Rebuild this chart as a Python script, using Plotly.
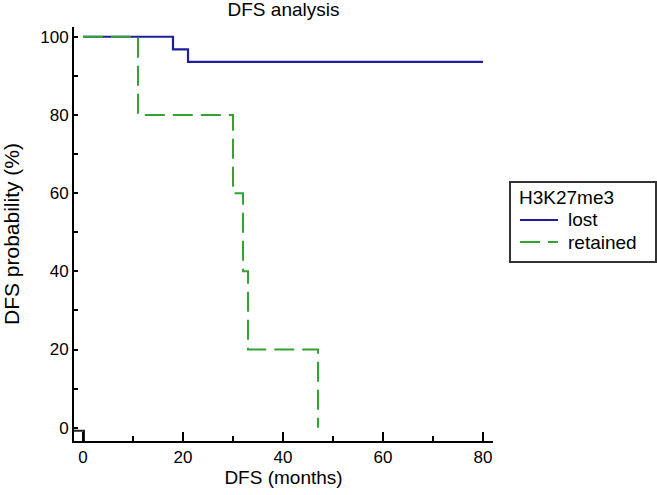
import plotly.graph_objects as go

# Kaplan-Meier step data (months, DFS probability %)
lost_months = [0, 18, 21, 80]
lost_surv = [100, 96.8, 93.6, 93.6]

retained_months = [0, 11, 30, 32, 33, 47]
retained_surv = [100, 80, 60, 40, 20, 0]

# small marker drawn by the software at the origin
origin_x = [-1.8, 0.2, 0.2]
origin_y = [-0.8, -0.8, -3.4]

x_ticks = [0, 20, 40, 60, 80]
y_ticks = [0, 20, 40, 60, 80, 100]

legend_title = "H3K27me3"
series_names = ["lost", "retained"]
series_colors = ["#1f1f9e", "#33a333"]
series_dash = ["solid", "20px,8px"]

FONT = "Liberation Sans, Arial, sans-serif"
W, H = 657, 495
ML, MR, MT, MB = 74, 164, 27, 54
PW, PH = W - ML - MR, H - MT - MB


def px(x):  # page pixel -> paper x
    return (x - ML) / PW


def py(y):  # page pixel -> paper y
    return (H - MB - y) / PH


fig = go.Figure()
fig.add_trace(go.Scatter(
    x=lost_months, y=lost_surv, mode="lines", line_shape="hv",
    name=series_names[0], showlegend=False,
    line=dict(color=series_colors[0], width=2.2)))
fig.add_trace(go.Scatter(
    x=retained_months, y=retained_surv, mode="lines", line_shape="hv",
    name=series_names[1], showlegend=False,
    line=dict(color=series_colors[1], width=2, dash=series_dash[1])))
fig.add_trace(go.Scatter(
    x=origin_x, y=origin_y, mode="lines", showlegend=False, hoverinfo="skip",
    line=dict(color="#222222", width=2)))

# legend box drawn manually to match the reference layout
shapes = [dict(type="rect", xref="paper", yref="paper",
               x0=px(510), x1=px(656), y0=py(262), y1=py(182),
               line=dict(color="#333333", width=2), fillcolor="white", layer="below")]
annotations = [dict(text=legend_title, xref="paper", yref="paper",
                    x=px(517), y=py(197), xanchor="left", yanchor="middle",
                    showarrow=False, font=dict(size=19))]
row_y = [220, 242]
for name, color, dash, ry in zip(series_names, series_colors, series_dash, row_y):
    shapes.append(dict(type="line", xref="paper", yref="paper",
                       x0=px(520), x1=px(558), y0=py(ry), y1=py(ry),
                       line=dict(color=color, width=2, dash=dash)))
    annotations.append(dict(text=name, xref="paper", yref="paper",
                            x=px(566), y=py(ry), xanchor="left", yanchor="middle",
                            showarrow=False, font=dict(size=19)))

fig.update_layout(
    width=W, height=H,
    margin=dict(l=ML, r=MR, t=MT, b=MB),
    paper_bgcolor="white", plot_bgcolor="white",
    font=dict(family=FONT, size=18, color="black"),
    title=dict(text="DFS analysis", x=283.5 / W, xanchor="center",
               y=1 - 9 / H, yanchor="middle", font=dict(size=19)),
    shapes=shapes, annotations=annotations,
    showlegend=False,
)

fig.update_xaxes(
    range=[-1.8, 82], showgrid=False, zeroline=False, automargin=False,
    showline=True, linecolor="black", linewidth=2,
    tickmode="array", tickvals=x_ticks, ticks="inside", ticklen=9,
    tickwidth=1.5, tickcolor="black",
    minor=dict(dtick=10, tick0=0, ticks="inside", ticklen=5, tickwidth=1.5, tickcolor="black"),
    title=dict(text="DFS (months)", standoff=4, font=dict(size=19)),
    tickfont=dict(size=17),
)
fig.update_yaxes(
    range=[-3.4, 102.5], showgrid=False, zeroline=False, automargin=False,
    showline=True, linecolor="black", linewidth=2,
    tickmode="array", tickvals=y_ticks, ticks="inside", ticklen=4,
    tickwidth=1.5, tickcolor="black",
    minor=dict(dtick=10, tick0=0, ticks="inside", ticklen=4, tickwidth=1.5, tickcolor="black"),
    title=dict(text="DFS probability (%)", standoff=16, font=dict(size=21)),
    tickfont=dict(size=17),
)

fig.write_html("out.html", config={"displayModeBar": False},
               post_script="document.body.style.margin='0';")
